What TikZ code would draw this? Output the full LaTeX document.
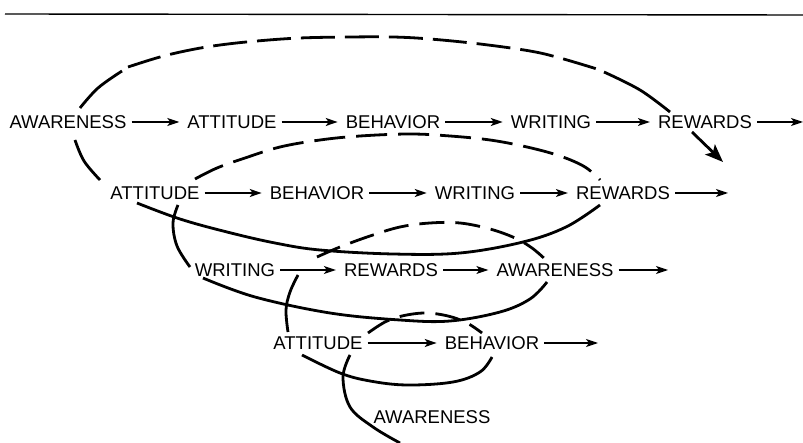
\documentclass[tikz,border=0pt]{standalone}
\usepackage{fontspec}
\setmainfont{Liberation Sans}
\usetikzlibrary{arrows.meta}
\begin{document}
\begin{tikzpicture}[x=1pt,y=-1pt,
  word/.style={inner sep=0pt, font=\fontsize{18.5}{20}\selectfont},
  flow/.style={line width=1.3pt, -{Stealth[length=12pt,width=8pt,inset=3pt]}, shorten <=5pt, shorten >=8pt},
  spiral/.style={line width=2.8pt},
  hidden/.style={spiral, dash pattern=on 34pt off 10pt},
  hiddensmall/.style={spiral, dash pattern=on 25pt off 11pt},
  bigarrow/.style={spiral, -{Stealth[length=18pt,width=14pt,inset=4pt]}},
  rule/.style={line width=1.4pt}
]
\useasboundingbox (0,0) rectangle (803,443);

% top rule
\coordinate (r0) at (5,14);
\coordinate (r1) at (803,15);
\draw[rule] (r0) -- (r1);

% row 1
\node[word] (aw1) at (68,122) {AWARENESS};
\node[word] (at1) at (232,122) {ATTITUDE};
\node[word] (be1) at (393,122) {BEHAVIOR};
\node[word] (wr1) at (551,122) {WRITING};
\node[word] (rw1) at (705,122) {REWARDS};
\coordinate (e1) at (803,122);
\draw[flow] (aw1) -- (at1);
\draw[flow] (at1) -- (be1);
\draw[flow] (be1) -- (wr1);
\draw[flow] (wr1) -- (rw1);
\draw[flow, shorten >=0pt] (rw1) -- (e1);

% row 2
\node[word] (at2) at (155,193) {ATTITUDE};
\node[word] (be2) at (317,193) {BEHAVIOR};
\node[word] (wr2) at (475,193) {WRITING};
\node[word] (rw2) at (623,193) {REWARDS};
\coordinate (e2) at (728,193);
\draw[flow] (at2) -- (be2);
\draw[flow] (be2) -- (wr2);
\draw[flow] (wr2) -- (rw2);
\draw[flow, shorten >=0pt] (rw2) -- (e2);

% row 3
\node[word] (wr3) at (235,270) {WRITING};
\node[word] (rw3) at (391,270) {REWARDS};
\node[word] (aw3) at (555,270) {AWARENESS};
\coordinate (e3) at (668,270);
\draw[flow] (wr3) -- (rw3);
\draw[flow] (rw3) -- (aw3);
\draw[flow, shorten >=0pt] (aw3) -- (e3);

% row 4
\node[word] (at4) at (318,343) {ATTITUDE};
\node[word] (be4) at (492,343) {BEHAVIOR};
\coordinate (e4) at (598,343);
\draw[flow] (at4) -- (be4);
\draw[flow, shorten >=0pt] (be4) -- (e4);

% row 5
\node[word] (aw5) at (432,417) {AWARENESS};

% outer loop: back (dashed) arc over the top
\draw[spiral] plot[smooth, tension=0.6] coordinates {(80,108) (98,88) (122,71)};
\draw[hidden] plot[smooth, tension=0.6] coordinates {(128,67) (160,57) (190,50) (220,45) (257,41) (300,38) (350,37) (393,37) (430,39) (480,44) (530,51) (560,58) (597,69)};
\draw[spiral] plot[smooth, tension=0.6] coordinates {(604,72) (640,90) (670,112)};
\coordinate (ba0) at (692,132);
\coordinate (ba1) at (723,162);
\draw[bigarrow] (ba0) -- (ba1);

% left side, loop 1
\draw[spiral] plot[smooth, tension=0.6] coordinates {(75,140) (84,161) (100,180)};

% front arc, loop 2
\draw[spiral] plot[smooth, tension=0.6] coordinates {(137,203) (180,219) (227,232) (275,243) (320,250) (393,254) (460,253) (523,242) (566,227) (600,205)};
% back arc, loop 2
\draw[hidden, dash pattern=on 31pt off 11pt] plot[smooth, tension=0.6] coordinates {(195,179) (217,168) (245,158) (280,147) (320,140) (360,136) (410,134) (450,136) (490,140) (527,147) (560,156) (585,167) (600,180)};
% left side, loop 2
\draw[spiral] plot[smooth, tension=0.6] coordinates {(178,205) (173,223) (177,246) (190,267)};

% front arc, loop 3
\draw[spiral] plot[smooth, tension=0.6] coordinates {(203,278) (255,297) (330,313) (400,320) (450,321) (500,312) (530,299) (547,282)};
% back arc, loop 3
\draw[hiddensmall] plot[smooth, tension=0.6] coordinates {(317,257) (340,247) (370,236) (400,227) (430,223) (460,223) (490,229) (515,238) (532,248) (546,260)};
% left side, loop 3
\draw[spiral] plot[smooth, tension=0.6] coordinates {(298,275) (290,292) (286,310) (288,332)};

% front arc, loop 4
\draw[spiral] plot[smooth, tension=0.6] coordinates {(302,355) (340,373) (370,381) (407,385) (453,382) (480,372) (492,357)};
% back arc, loop 4
\draw[hiddensmall] plot[smooth, tension=0.6] coordinates {(368,333) (385,322) (402,316) (425,313) (448,316) (467,323) (482,333)};
% innermost tail
\draw[spiral] plot[smooth, tension=0.6] coordinates {(350,355) (343,377) (350,407) (373,427) (400,443)};
\end{tikzpicture}
\end{document}
